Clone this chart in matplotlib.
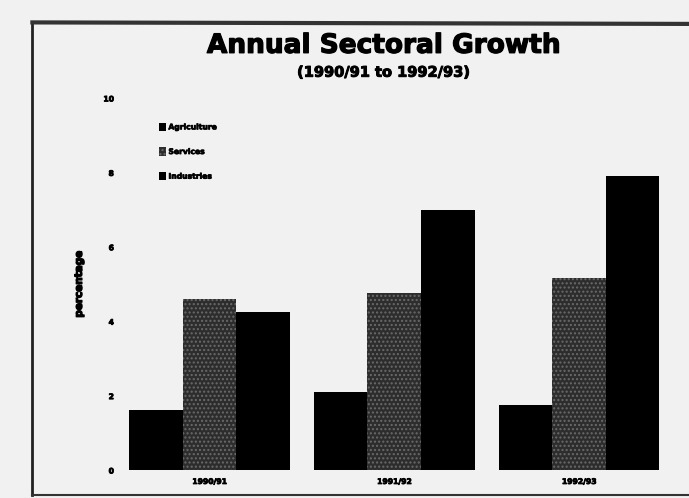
import numpy as np
import matplotlib.pyplot as plt
import matplotlib.patheffects as pe
from matplotlib.lines import Line2D

# annual growth by sector, percent
years = ["1990/91", "1991/92", "1992/93"]
agriculture = [1.6, 2.1, 1.75]
services = [4.6, 4.75, 5.15]
industries = [4.25, 7.0, 7.9]
sectors = ["Agriculture", "Services", "Industries"]
yticks = [0, 2, 4, 6, 8, 10]

bg = "#f1f1f1"
heavy = [pe.withStroke(linewidth=0.9, foreground="black")]

fig = plt.figure(figsize=(6.89, 4.98), dpi=100, facecolor=bg)
ax = fig.add_axes([0.1814, 0.0562, 0.7837, 0.7470], facecolor=bg)

x = np.arange(len(years))
w = 0.29
ax.bar(x - w, agriculture, w, color="black", label=sectors[0])
ax.bar(x, services, w, color="#2d2d2d", hatch="....", edgecolor="#6a6a6a",
       linewidth=0, label=sectors[1])
ax.bar(x + w, industries, w, color="black", label=sectors[2])

ax.set_xlim(-0.457, 2.465)
ax.set_ylim(0, 10)
ax.set_xticks(x)
ax.set_xticklabels(years, fontsize=5.5, fontweight="bold")
ax.set_yticks(yticks)
ax.set_yticklabels([str(t) for t in yticks], fontsize=5.5, fontweight="bold")
ax.tick_params(length=0, pad=8)
ax.tick_params(axis="x", pad=5)
for lbl in ax.get_xticklabels() + ax.get_yticklabels():
    lbl.set_path_effects([pe.withStroke(linewidth=0.6, foreground="black")])
for s in ax.spines.values():
    s.set_visible(False)

ax.set_ylabel("percentage", fontsize=7.5, fontweight="bold", labelpad=14,
              path_effects=heavy)

leg = ax.legend(loc="upper left", bbox_to_anchor=(0.05, 0.953), frameon=False,
                fontsize=5.5, handlelength=1.0, handleheight=1.3,
                handletextpad=0.25, labelspacing=2.05)
for t in leg.get_texts():
    t.set_fontweight("bold")
    t.set_path_effects([pe.withStroke(linewidth=0.5, foreground="black")])

fig.text(0.557, 0.908, "Annual Sectoral Growth", ha="center", va="center",
         fontsize=19, fontweight="bold", path_effects=heavy)
fig.text(0.557, 0.855, "(1990/91 to 1992/93)", ha="center", va="center",
         fontsize=10.5, fontweight="bold",
         path_effects=[pe.withStroke(linewidth=0.7, foreground="black")])

# page frame around the chart
fig.add_artist(Line2D([0.047, 0.047], [0.006, 0.955], transform=fig.transFigure,
                      color="#222222", lw=2))
fig.add_artist(Line2D([0.047, 1.0], [0.955, 0.952], transform=fig.transFigure,
                      color="#333333", lw=3))
fig.add_artist(Line2D([0.047, 1.0], [0.006, 0.006], transform=fig.transFigure,
                      color="#333333", lw=1.5))

fig.savefig("out.png", dpi=100, facecolor=bg)
